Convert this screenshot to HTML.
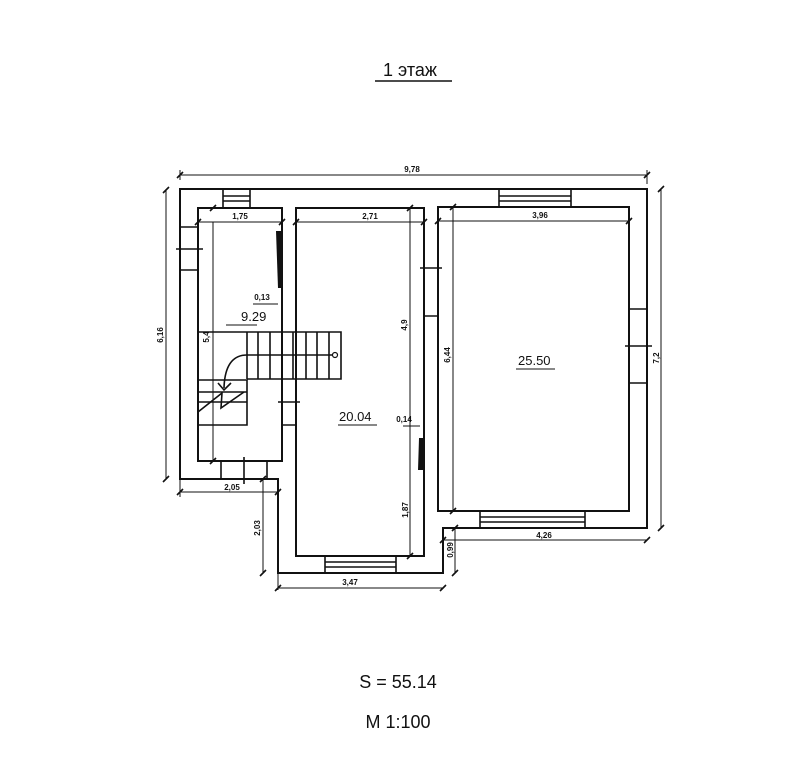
<!DOCTYPE html>
<html><head><meta charset="utf-8"><style>
html,body{margin:0;padding:0;background:#fff;}
svg{display:block;}
text{font-family:"Liberation Sans",sans-serif;fill:#111;}
</style></head><body>
<svg width="811" height="768" viewBox="0 0 811 768" xmlns="http://www.w3.org/2000/svg">
<g fill="none" stroke="#111" stroke-width="2">
<!-- outer contour -->
<path d="M180,189 H647 V528 H443 V573 H278 V479 H180 Z"/>
<!-- room1 -->
<path d="M198,208 H282 V461 H198 Z"/>
<!-- room2 -->
<path d="M296,208 H424 V556 H296 Z"/>
<!-- room3 -->
<path d="M438,207 H629 V511 H438 Z"/>
</g>
<g fill="none" stroke="#111" stroke-width="1.6">
<!-- top left window -->
<path d="M223,189 V207 M250,189 V207 M223,196 H250 M223,201 H250"/>
<!-- top right window -->
<path d="M499,189 V207 M571,189 V207 M499,196 H571 M499,201 H571"/>
<!-- right window -->
<path d="M629,309 H647 M629,383 H647 M625,346 H652"/>
<!-- bottom right window -->
<path d="M480,511 V528 M585,511 V528 M480,517 H585 M480,522 H585"/>
<!-- bottom room2 window -->
<path d="M325,556 V573 M396,556 V573 M325,562 H396 M325,567 H396"/>
<!-- left window -->
<path d="M180,227 H198 M180,270 H198 M176,249 H203"/>
<!-- wall between room2/room3 -->
<path d="M424,316 H438 M420,268 H442"/>
<!-- room1 bottom door -->
<path d="M221,461 V479 M267,461 V479 M244,457 V484"/>
<!-- wall room1/room2 door -->
<path d="M282,425 H296 M278,402 H300"/>
<!-- stairs -->
<path d="M198,332 H341 V379 H247 M247,332 V379 M258,332 V379 M270,332 V379 M282,332 V379 M293,332 V379 M306,332 V379 M317,332 V379 M329,332 V379"/>
<path d="M247,355 H333"/>
<path d="M247,355 Q225,355 224,388"/>
<path d="M198,380 H247 V425 H198 M198,392 H247 M198,402 H247"/>
<path d="M198,412 L222,393 L221,408 L244,392"/>
<path d="M218,383 L224,390 L231,383"/>
</g>
<circle cx="335" cy="355" r="2.5" fill="#fff" stroke="#111" stroke-width="1.2"/>
<!-- door leaves -->
<path d="M276,231 L282,231 L282,288 L278,288 Z" fill="#111"/>
<path d="M419,438 L424,438 L424,470 L418,470 Z" fill="#111"/>
<!-- dimension lines -->
<g fill="none" stroke="#111" stroke-width="1">
<path d="M180,175 H647 M166,190 V479 M661,189 V528 M180,492 H278 M263,479 V573 M278,588 H443 M455,528 V573 M443,540 H647"/>
<path d="M198,222 H282 M296,222 H424 M438,221 H629 M213,222 V461 M410,208 V556 M453,207 V511"/>
<path d="M253,304 H278 M403,426 H420"/>
<path d="M180,170 V180 M647,170 V184 M166,190 V479 M180,479 V497 M278,479 V590"/>
</g>
<g stroke="#111" stroke-width="1.6">
<path d="M177,178 L183,172 M644,178 L650,172 M163,193 L169,187 M163,482 L169,476 M658,192 L664,186 M658,531 L664,525 M177,495 L183,489 M275,495 L281,489 M260,482 L266,476 M260,576 L266,570 M275,591 L281,585 M440,591 L446,585 M452,531 L458,525 M452,576 L458,570 M440,543 L446,537 M644,543 L650,537"/>
<path d="M195,225 L201,219 M279,225 L285,219 M293,225 L299,219 M421,225 L427,219 M435,224 L441,218 M626,224 L632,218 M210,211 L216,205 M210,464 L216,458 M407,211 L413,205 M407,559 L413,553 M450,210 L456,204 M450,514 L456,508"/>
</g>
<!-- labels -->
<g font-size="8" font-weight="bold">
<text x="412" y="172" text-anchor="middle">9,78</text>
<text x="240" y="219" text-anchor="middle">1,75</text>
<text x="370" y="219" text-anchor="middle">2,71</text>
<text x="540" y="218" text-anchor="middle">3,96</text>
<text x="262" y="300" text-anchor="middle">0,13</text>
<text x="404" y="422" text-anchor="middle">0,14</text>
<text x="232" y="490" text-anchor="middle">2,05</text>
<text x="350" y="585" text-anchor="middle">3,47</text>
<text x="544" y="538" text-anchor="middle">4,26</text>
<text transform="translate(163,335) rotate(-90)" text-anchor="middle">6,16</text>
<text transform="translate(209,337) rotate(-90)" text-anchor="middle">5,4</text>
<text transform="translate(407,325) rotate(-90)" text-anchor="middle">4,9</text>
<text transform="translate(408,510) rotate(-90)" text-anchor="middle">1,87</text>
<text transform="translate(260,528) rotate(-90)" text-anchor="middle">2,03</text>
<text transform="translate(450,355) rotate(-90)" text-anchor="middle">6,44</text>
<text transform="translate(453,550) rotate(-90)" text-anchor="middle">0,99</text>
<text transform="translate(659,358) rotate(-90)" text-anchor="middle">7,2</text>
</g>
<g font-size="13">
<text x="241" y="321">9.29</text>
<text x="339" y="421">20.04</text>
<text x="518" y="365">25.50</text>
</g>
<g stroke="#111" stroke-width="1">
<path d="M226,325 H257 M338,425 H377 M516,369 H555"/>
</g>
<text x="410" y="76" font-size="18" text-anchor="middle">1 этаж</text>
<line x1="375" y1="81" x2="452" y2="81" stroke="#111" stroke-width="1.5"/>
<text x="398" y="688" font-size="18" text-anchor="middle">S = 55.14</text>
<text x="398" y="728" font-size="18" text-anchor="middle">M 1:100</text>
</svg>
</body></html>
